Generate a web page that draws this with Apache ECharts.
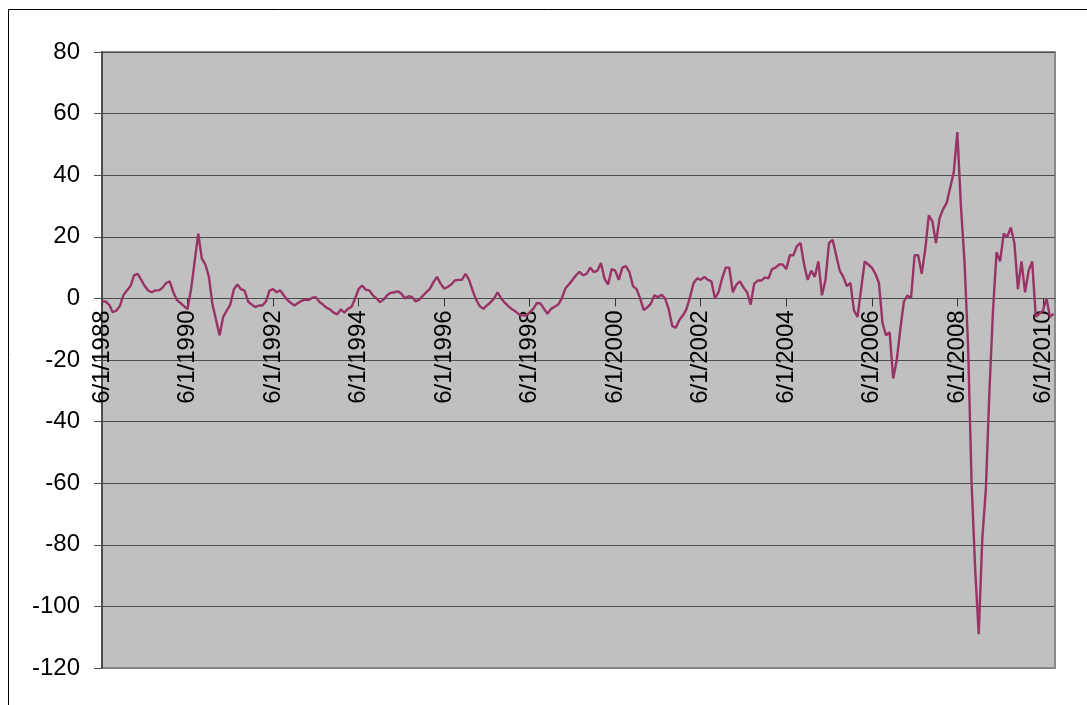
<!DOCTYPE html>
<html>
<head>
<meta charset="utf-8">
<script src="https://cdn.jsdelivr.net/npm/echarts@6/dist/echarts.min.js"></script>
<style>
html,body{margin:0;padding:0;background:#fff;}
#chart{width:1087px;height:705px;}
</style>
</head>
<body>
<div id="chart"></div>
<script>
// Monthly readings, one value per month starting 6/1/1988
const values = [
  -1, -1, -2, -4.5, -4, -2.5, 1, 2.6, 4, 7.5,
  8, 6, 4, 2.5, 2, 2.6, 2.6, 3.5, 5, 5.5,
  2, -0.5, -1.5, -2.5, -3.5, 3, 12, 21, 13, 11,
  7, -2, -7, -12, -6, -4, -2, 3, 4.5, 3,
  2.5, -1, -2, -2.8, -2.3, -2.3, -1, 2.5, 3, 2,
  2.6, 1, -0.5, -1.5, -2.3, -1.5, -0.8, -0.4, -0.5, 0.2,
  0.4, -1.2, -2, -3, -3.6, -4.6, -5.2, -3.6, -4.6, -3.4,
  -2.8, -0.1, 3, 4.2, 2.8, 2.6, 1, 0, -1.2, -0.4,
  1, 1.8, 2, 2.3, 1.5, 0, 0.7, 0.5, -1, -0.4,
  0.8, 2, 3.1, 5.3, 7, 4.8, 3.2, 3.7, 4.5, 5.8,
  6, 6, 8, 6, 2.5, -0.5, -2.5, -3.4, -2.3, -1.3,
  0, 2, 0, -1.4, -2.5, -3.5, -4.2, -5.2, -5.5, -5.6,
  -4.5, -3.4, -1.5, -1.6, -3.3, -5, -3.4, -2.7, -2, 0,
  3.2, 4.5, 6, 7.5, 8.6, 7.5, 8, 10, 8.5, 9,
  11.5, 6.4, 4.5, 9.5, 9, 6, 10, 10.5, 8.5, 4,
  3, 0, -3.8, -2.9, -1.7, 1, 0.4, 1.2, 0, -3.5,
  -9, -9.5, -7, -5.5, -3.5, 0.5, 5, 6.5, 6, 7,
  6, 5.5, 0, 2, 6.5, 10, 10, 2, 4.5, 5.5,
  3.5, 2, -2, 4.8, 5.8, 5.8, 6.8, 6.5, 9.5, 10,
  11, 11, 9.5, 14, 14, 17, 18, 11, 6, 9,
  7, 12, 1, 6, 18, 19, 14, 9, 7, 4,
  5, -4, -6, 3, 12, 11, 10, 8, 5, -8,
  -12, -11, -26, -20, -10, -1, 1, 0, 14, 14,
  8, 16, 27, 25, 18, 26, 29, 31, 36, 41,
  54, 30, 12, -15, -60, -88, -109, -78, -62, -30,
  -4, 15, 12, 21, 20, 23, 18, 3, 12, 2,
  9, 12, -6, -5, -4, 0, -6, -5
];
const tickLabels = ['6/1/1988','6/1/1990','6/1/1992','6/1/1994','6/1/1996','6/1/1998',
                    '6/1/2000','6/1/2002','6/1/2004','6/1/2006','6/1/2008','6/1/2010'];
const monthsPerLabel = 24;
const yTicks = [-120,-100,-80,-60,-40,-20,0,20,40,60,80];

const chart = echarts.init(document.getElementById('chart'), null, {renderer: 'canvas'});
const FONT = "'Liberation Sans', Arial, sans-serif";
const tickPos = tickLabels.map((_, i) => i * monthsPerLabel);
const gridColors = yTicks.map((v, i) => i === 0 ? '#808080' : '#4d4d4d');

const gridTop = 52, gridHeight = 616;
const yMin = yTicks[0], yMax = yTicks[yTicks.length - 1];
// distance from grid bottom up to the zero line (axis crosses at 0)
const zeroOffset = gridHeight * (0 - yMin) / (yMax - yMin);

chart.setOption({
  animation: false,
  backgroundColor: '#ffffff',
  graphic: [{
    type: 'rect',
    shape: {x: 8.5, y: 9.5, width: 1100, height: 720},
    style: {fill: 'none', stroke: '#000000', lineWidth: 1},
    silent: true
  }],
  grid: {
    left: 102, top: gridTop, width: 953, height: gridHeight,
    show: true, backgroundColor: '#C0C0C0',
    borderColor: '#8a8a8a', borderWidth: 2,
    containLabel: false, outerBoundsMode: 'none'
  },
  xAxis: {
    type: 'value',
    position: 'bottom',
    offset: -zeroOffset,
    min: 0, max: values.length - 0.6,
    axisLine: {show: true, onZero: false, lineStyle: {color: '#4d4d4d', width: 1.2}},
    axisTick: {show: true, length: 8, customValues: tickPos, lineStyle: {color: '#333333', width: 1}},
    axisLabel: {
      customValues: tickPos,
      rotate: 90, margin: 12,
      color: '#000', fontFamily: FONT, fontSize: 24,
      formatter: (v) => tickLabels[Math.round(v / monthsPerLabel)] || ''
    },
    splitLine: {show: false}
  },
  yAxis: {
    type: 'value',
    min: yMin, max: yMax, interval: 20,
    axisLine: {show: true, lineStyle: {color: '#4d4d4d', width: 2}},
    axisTick: {show: true, length: 8, lineStyle: {color: '#4d4d4d', width: 1}},
    axisLabel: {color: '#000', fontFamily: FONT, fontSize: 24, margin: 22},
    splitLine: {show: true, lineStyle: {color: gridColors, width: 1.2}}
  },
  series: [{
    type: 'line',
    data: values.map((v, i) => [i, v]),
    showSymbol: false,
    symbol: 'none',
    lineStyle: {color: '#993366', width: 2.4},
    z: 5
  }]
});
</script>
</body>
</html>
